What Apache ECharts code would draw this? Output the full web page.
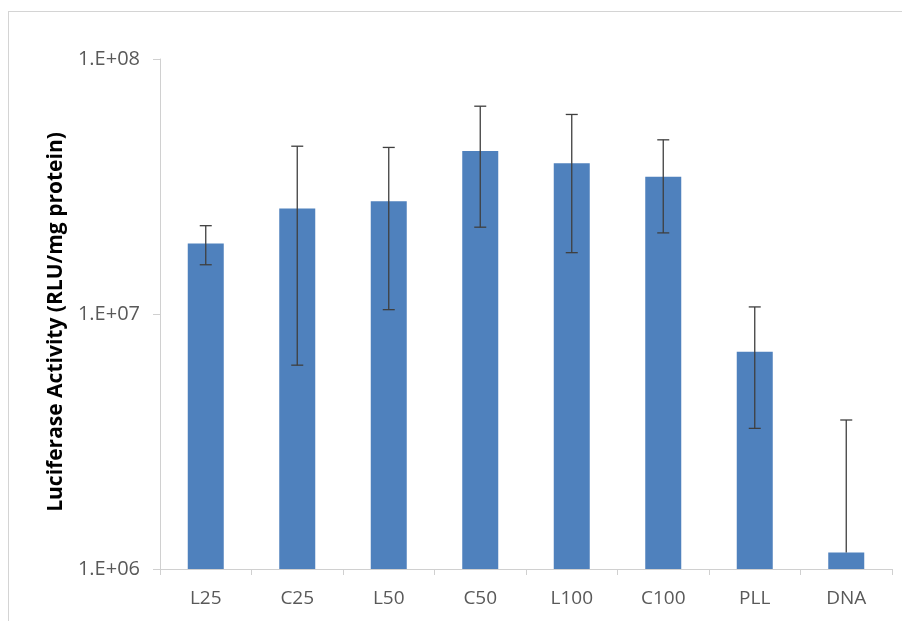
<!DOCTYPE html>
<html>
<head>
<meta charset="utf-8">
<script src="https://cdn.jsdelivr.net/npm/echarts@6/dist/echarts.min.js"></script>
<style>
  html, body { margin: 0; padding: 0; background: #ffffff; }
  #chart { width: 902px; height: 621px; }
</style>
</head>
<body>
<div id="chart"></div>
<script>
// Sample groups along the x axis
const categories = ['L25', 'C25', 'L50', 'C50', 'L100', 'C100', 'PLL', 'DNA'];
// Mean luciferase activity (RLU/mg protein)
const activity = [1.89e7, 2.59e7, 2.77e7, 4.36e7, 3.90e7, 3.45e7, 7.11e6, 1.16e6];
// Standard deviation for each group (symmetric error bars)
const deviation = [3.3e6, 1.96e7, 1.73e7, 2.17e7, 2.16e7, 1.37e7, 3.55e6, 2.68e6];
// Log axis range and tick label text
const axisMin = 1e6;
const axisMax = 1e8;
const tickLabels = { 6: '1.E+06', 7: '1.E+07', 8: '1.E+08' };

const errorData = categories.map((c, i) => [i, activity[i] - deviation[i], activity[i] + deviation[i], activity[i]]);

const chart = echarts.init(document.getElementById('chart'));
chart.setOption({
  animation: false,
  backgroundColor: '#ffffff',
  textStyle: { fontFamily: '"Open Sans", "Liberation Sans", sans-serif' },
  graphic: [
    { type: 'line', shape: { x1: 8, y1: 11.5, x2: 902, y2: 11.5 }, style: { stroke: '#d4d4d4', lineWidth: 1 } },
    { type: 'line', shape: { x1: 8.5, y1: 11, x2: 8.5, y2: 621 }, style: { stroke: '#d4d4d4', lineWidth: 1 } }
  ],
  grid: { left: 160, right: 10, top: 59, bottom: 52 },
  xAxis: {
    type: 'category',
    data: categories,
    axisLine: { lineStyle: { color: '#d0d0d0', width: 1 } },
    axisTick: { show: true, length: 6, lineStyle: { color: '#d0d0d0' } },
    axisLabel: { color: '#595959', fontSize: 19, margin: 20, fontFamily: '"Open Sans", sans-serif' }
  },
  yAxis: {
    type: 'log',
    logBase: 10,
    min: axisMin,
    max: axisMax,
    name: 'Luciferase Activity (RLU/mg protein)',
    nameLocation: 'middle',
    nameGap: 67,
    nameRotate: 90,
    nameTextStyle: {
      color: '#000000',
      fontSize: 21,
      fontWeight: 'bold',
      fontFamily: '"Open Sans", sans-serif',
      padding: [0, 16, 0, 0]
    },
    axisLine: { show: true, lineStyle: { color: '#d0d0d0', width: 1 } },
    axisTick: { show: true, length: 7, lineStyle: { color: '#d0d0d0' } },
    splitLine: { show: false },
    minorTick: { show: false },
    axisLabel: {
      color: '#595959',
      fontSize: 20,
      margin: 20,
      fontFamily: '"Open Sans", sans-serif',
      formatter: v => tickLabels[Math.round(Math.log10(v))] || ''
    }
  },
  series: [
    {
      type: 'bar',
      data: activity,
      barWidth: 36,
      itemStyle: { color: '#4f81bd' }
    },
    {
      type: 'custom',
      data: errorData,
      z: 10,
      renderItem: (params, api) => {
        const idx = api.value(0);
        const lo = api.value(1);
        const hi = api.value(2);
        const mean = api.value(3);
        const top = api.coord([idx, hi]);
        const capHalf = 6;
        const children = [];
        let bottom;
        if (lo > 0) {
          bottom = api.coord([idx, lo]);
          children.push({ type: 'line', shape: { x1: bottom[0] - capHalf, y1: bottom[1], x2: bottom[0] + capHalf, y2: bottom[1] }, style: { stroke: '#3f3f3f', lineWidth: 1.3 } });
        } else {
          bottom = api.coord([idx, mean]);
        }
        children.push({ type: 'line', shape: { x1: top[0], y1: top[1], x2: bottom[0], y2: bottom[1] }, style: { stroke: '#3f3f3f', lineWidth: 1.3 } });
        children.push({ type: 'line', shape: { x1: top[0] - capHalf, y1: top[1], x2: top[0] + capHalf, y2: top[1] }, style: { stroke: '#3f3f3f', lineWidth: 1.3 } });
        return { type: 'group', children };
      }
    }
  ]
});
</script>
</body>
</html>
